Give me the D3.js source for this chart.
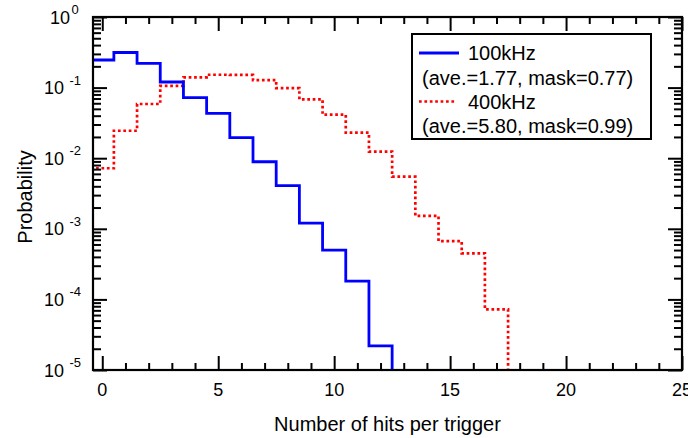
<!DOCTYPE html>
<html>
<head>
<meta charset="utf-8">
<script src="https://cdn.jsdelivr.net/npm/d3@7"></script>
<style>
  html, body { margin: 0; padding: 0; background: #fff; }
  svg { display: block; font-family: "Liberation Sans", Arial, sans-serif; }
</style>
</head>
<body>
<svg id="chart" width="688" height="438"></svg>
<script>
// Hit-multiplicity histograms (probability per number of hits), one per trigger rate
const bins = [0, 1, 2, 3, 4, 5, 6, 7, 8, 9, 10, 11, 12, 13, 14, 15, 16, 17];
const prob100kHz = [0.246, 0.314, 0.221, 0.120, 0.072, 0.0432, 0.0195, 0.0089, 0.0041, 0.0012, 5.0e-4, 1.82e-4, 2.2e-5];
const prob400kHz = [0.0072, 0.0245, 0.0586, 0.106, 0.14, 0.152, 0.151, 0.128, 0.098, 0.068, 0.0413, 0.023, 0.0124, 0.00547, 0.00152, 6.7e-4, 4.5e-4, 7.2e-5];
const seriesNames = ["100kHz", "400kHz"];
const seriesNotes = ["(ave.=1.77, mask=0.77)", "(ave.=5.80, mask=0.99)"];
const xMajorTicks = [0, 5, 10, 15, 20, 25];
const yExponents = [0, -1, -2, -3, -4, -5];

const svg = d3.select("#chart");
const L = 93, R = 682, T = 17, B = 370;

const x = d3.scaleLinear().domain([-0.4, 25]).range([L, R]);
const y = d3.scaleLog().domain([1e-5, 1]).range([B, T]);

// clip for the histogram lines
svg.append("defs").append("clipPath").attr("id", "plotClip")
  .append("rect").attr("x", L).attr("y", T).attr("width", R - L).attr("height", B - T);

// step outline of a histogram: bin edges at n +/- 0.5, falling to zero after the last bin
function stepPoints(vals) {
  const pts = vals.map((v, i) => [bins[i] - 0.5, v]);
  pts.push([bins[vals.length - 1] + 0.5, 1e-7]);
  return pts;
}
const stepLine = d3.line()
  .x(d => x(d[0]))
  .y(d => Math.min(y(d[1]), B + 20))
  .curve(d3.curveStepAfter);

const plot = svg.append("g").attr("clip-path", "url(#plotClip)");
plot.append("path").datum(stepPoints(prob400kHz))
  .attr("d", stepLine).attr("fill", "none")
  .attr("stroke", "#ff0000").attr("stroke-width", 2.7)
  .attr("stroke-dasharray", "2.7 2.7");
plot.append("path").datum(stepPoints(prob100kHz))
  .attr("d", stepLine).attr("fill", "none")
  .attr("stroke", "#0000ff").attr("stroke-width", 2.8);

// axes (ticks pointing inward on all four sides)
const xMinor = d3.range(0, 26).filter(v => !xMajorTicks.includes(v));
const yMinor = [];
for (let e = -5; e < 0; e++) for (let m = 2; m <= 9; m++) yMinor.push(m * Math.pow(10, e));
const yMajor = yExponents.map(e => Math.pow(10, e));

const axisG = svg.append("g").attr("stroke", "#000").attr("stroke-width", 2);
const majLen = 14, minLen = 7;

axisG.append("g").attr("transform", `translate(0,${B})`)
  .call(d3.axisBottom(x).tickValues(xMajorTicks).tickSize(-majLen).tickFormat(""))
  .call(g => g.selectAll("line").attr("stroke-width", 2))
  .call(g => g.select(".domain").remove());
axisG.append("g").attr("transform", `translate(0,${B})`)
  .call(d3.axisBottom(x).tickValues(xMinor).tickSize(-minLen).tickFormat(""))
  .call(g => g.selectAll("line").attr("stroke-width", 2))
  .call(g => g.select(".domain").remove());
axisG.append("g").attr("transform", `translate(0,${T})`)
  .call(d3.axisTop(x).tickValues(xMajorTicks).tickSize(-majLen).tickFormat(""))
  .call(g => g.selectAll("line").attr("stroke-width", 2))
  .call(g => g.select(".domain").remove());
axisG.append("g").attr("transform", `translate(0,${T})`)
  .call(d3.axisTop(x).tickValues(xMinor).tickSize(-minLen).tickFormat(""))
  .call(g => g.selectAll("line").attr("stroke-width", 2))
  .call(g => g.select(".domain").remove());

axisG.append("g").attr("transform", `translate(${L},0)`)
  .call(d3.axisLeft(y).tickValues(yMajor).tickSize(-majLen).tickFormat(""))
  .call(g => g.selectAll("line").attr("stroke-width", 2))
  .call(g => g.select(".domain").remove());
axisG.append("g").attr("transform", `translate(${L},0)`)
  .call(d3.axisLeft(y).tickValues(yMinor).tickSize(-minLen - 1).tickFormat(""))
  .call(g => g.selectAll("line").attr("stroke-width", 2))
  .call(g => g.select(".domain").remove());
axisG.append("g").attr("transform", `translate(${R},0)`)
  .call(d3.axisRight(y).tickValues(yMajor).tickSize(-majLen).tickFormat(""))
  .call(g => g.selectAll("line").attr("stroke-width", 2))
  .call(g => g.select(".domain").remove());
axisG.append("g").attr("transform", `translate(${R},0)`)
  .call(d3.axisRight(y).tickValues(yMinor).tickSize(-minLen - 1).tickFormat(""))
  .call(g => g.selectAll("line").attr("stroke-width", 2))
  .call(g => g.select(".domain").remove());

// frame
svg.append("rect").attr("x", L).attr("y", T).attr("width", R - L).attr("height", B - T)
  .attr("fill", "none").attr("stroke", "#000").attr("stroke-width", 2.2);

// x tick labels
svg.append("g").selectAll("text").data(xMajorTicks).join("text")
  .attr("x", d => x(d)).attr("y", B + 26)
  .attr("text-anchor", "middle").attr("font-size", 18).attr("fill", "#000")
  .text(d => d);

// y tick labels as 10 with a raised exponent
const yLab = svg.append("g").attr("fill", "#000");
yExponents.forEach(e => {
  const ty = y(Math.pow(10, e));
  const baseEnd = e === 0 ? 70 : 64;
  yLab.append("text").attr("x", baseEnd).attr("y", ty + 6.5)
    .attr("text-anchor", "end").attr("font-size", 18).text("10");
  yLab.append("text").attr("x", e === 0 ? 71.5 : 69.5).attr("y", ty - 3)
    .attr("text-anchor", "start").attr("font-size", 13).text(String(e));
});

// axis titles
svg.append("text").attr("x", (L + R) / 2).attr("y", 431)
  .attr("text-anchor", "middle").attr("font-size", 20).attr("fill", "#000")
  .text("Number of hits per trigger");
svg.append("text").attr("transform", `translate(32,197) rotate(-90)`)
  .attr("text-anchor", "middle").attr("font-size", 20).attr("fill", "#000")
  .text("Probability");

// legend
const leg = svg.append("g");
leg.append("rect").attr("x", 412).attr("y", 34).attr("width", 239).attr("height", 105)
  .attr("fill", "#fff").attr("stroke", "#000").attr("stroke-width", 2);
const legStyles = [
  { color: "#0000ff", dash: null, width: 2.8, x2: 459 },
  { color: "#ff0000", dash: "2.7 2.7", width: 2.7, x2: 455 }
];
seriesNames.forEach((name, i) => {
  const top = 53 + i * 48.5;
  const st = legStyles[i];
  const ln = leg.append("line").attr("x1", 419).attr("x2", st.x2)
    .attr("y1", top).attr("y2", top)
    .attr("stroke", st.color).attr("stroke-width", st.width);
  if (st.dash) ln.attr("stroke-dasharray", st.dash);
  leg.append("text").attr("x", 468).attr("y", top + 7)
    .attr("font-size", 20).attr("fill", "#000").text(name);
  leg.append("text").attr("x", 422).attr("y", top + 31.5)
    .attr("font-size", 20).attr("fill", "#000").text(seriesNotes[i]);
});
</script>
</body>
</html>
